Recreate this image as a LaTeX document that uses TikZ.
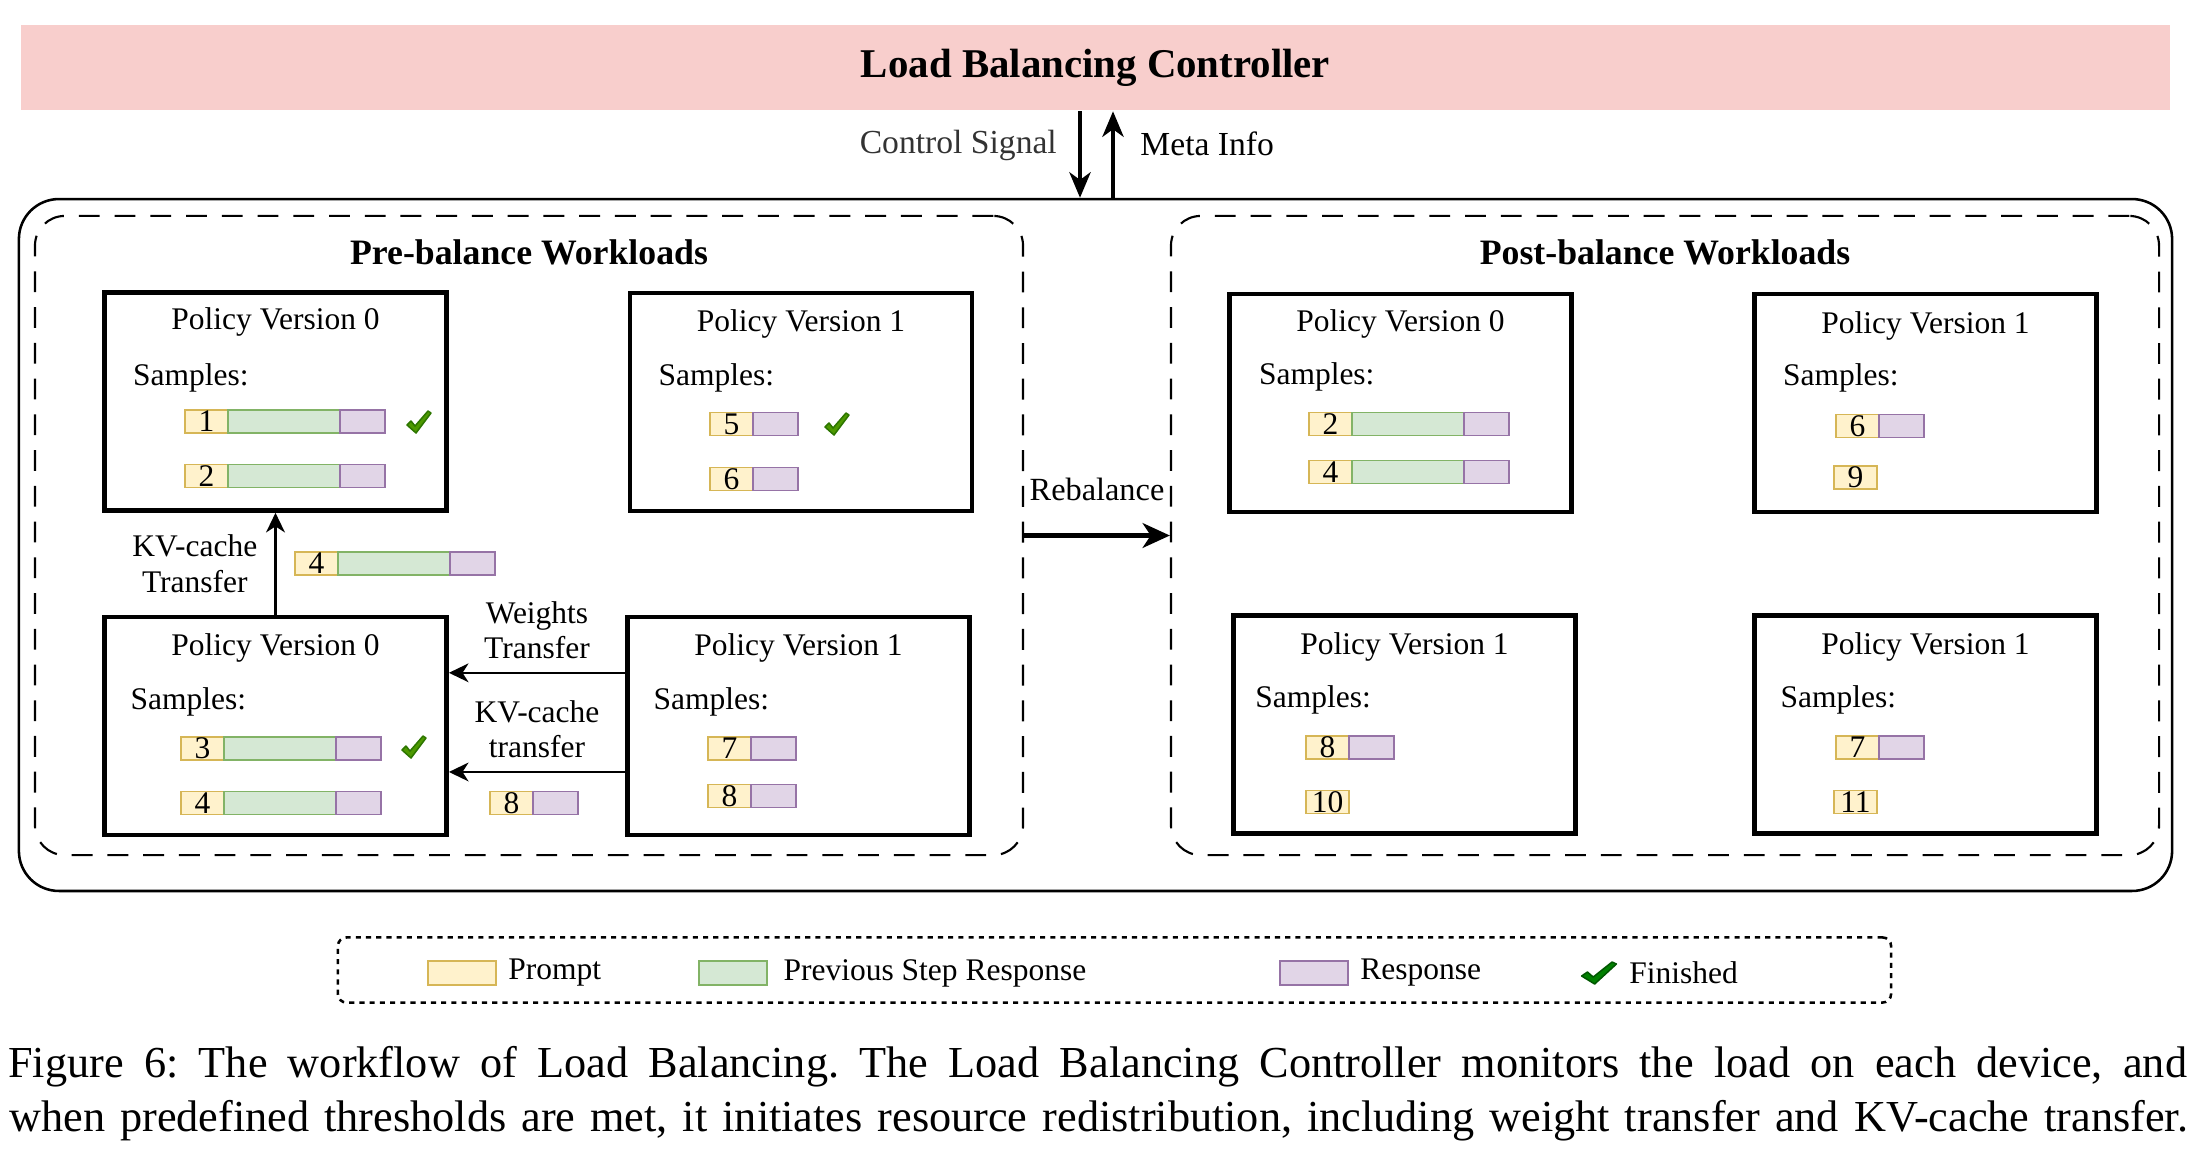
\documentclass[tikz,border=0pt]{standalone}
\usepackage{fontspec}
\setmainfont{Liberation Serif}
\usetikzlibrary{arrows.meta,positioning}

\definecolor{ctrlpink}{HTML}{F8CECC}
\definecolor{promptfill}{HTML}{FFF2CC}
\definecolor{promptedge}{HTML}{D6B656}
\definecolor{prevfill}{HTML}{D5E8D4}
\definecolor{prevedge}{HTML}{82B366}
\definecolor{respfill}{HTML}{E1D5E7}
\definecolor{respedge}{HTML}{9673A6}
\definecolor{tickfill}{HTML}{4D9900}
\definecolor{tickedge}{HTML}{2D7600}
\definecolor{donefill}{HTML}{008000}
\definecolor{doneedge}{HTML}{005700}
\definecolor{signalgray}{HTML}{333333}

\newcommand{\capspace}{\spaceskip=0.25em plus 0.25em minus 0.12em\relax}

\tikzset{
  cell/.style={draw, line width=0.45pt, minimum height=5.4pt, inner sep=0pt,
    outer sep=0pt, anchor=west},
  prompt/.style={cell, fill=promptfill, draw=promptedge, minimum width=10.1pt},
  prev/.style={cell, fill=prevfill, draw=prevedge, minimum width=26.3pt},
  resp/.style={cell, fill=respfill, draw=respedge, minimum width=10.6pt},
  policy/.style={draw, line width=1.1pt, minimum width=80.4pt,
    minimum height=51.2pt, inner sep=0pt},
  boxtitle/.style={inner sep=0pt},
  samplabel/.style={inner sep=0pt, anchor=west},
  phase/.style={draw, line width=0.5pt, dash pattern=on 4.9pt off 3.5pt,
    rounded corners=7pt, minimum width=232.2pt, minimum height=150.2pt,
    inner sep=0pt},
  phasetitle/.style={inner sep=0pt, font=\fontsize{8.4}{10}\selectfont\bfseries},
  siglabel/.style={inner sep=0pt, font=\fontsize{7.9}{9}\selectfont},
  captionline/.style={anchor=base west, inner sep=0pt,
    font=\fontsize{10.4}{12.5}\selectfont},
  sig/.style={-{Stealth[length=6pt, width=5pt, inset=1.8pt]}, line width=0.9pt},
  rebal/.style={-{Stealth[length=6.4pt, width=5.8pt, inset=1.9pt]}, line width=1.1pt},
  xfer/.style={-{Stealth[length=4.6pt, width=4.4pt, inset=1.4pt]}, line width=0.6pt},
  tick/.pic={\filldraw[pic actions, line width=0.35pt, line join=round]
    (-12,3) -- (-8,-1) -- (-4,4) -- (9,-11) -- (12,-9) -- (-3,11) -- cycle;}
}

\begin{document}
\frenchspacing
\begin{tikzpicture}[x=0.235pt, y=-0.235pt, line width=0.6pt,
  font=\fontsize{7.4}{8.3}\selectfont]
\useasboundingbox (0,0) rectangle (2210,1152);

% Contrôleur
\node[fill=ctrlpink, minimum width=505pt, minimum height=20pt, inner sep=0pt,
  font=\fontsize{9.6}{11}\selectfont\bfseries] (ctrl) at (1095.5,67.5)
  {Load Balancing Controller};

% Cadre extérieur
\node[draw, rounded corners=9.4pt, minimum width=506pt, minimum height=162.6pt,
  inner sep=0pt] (cluster) at (1095.5,545) {};

% Signaux
\coordinate (sigx) at (1080,0);
\coordinate (infox) at (1113,0);
\draw[sig] (ctrl.south -| sigx) -- node[pos=0.4, left=5pt, siglabel,
  text=signalgray] {Control Signal} (cluster.north -| sigx);
\draw[sig] (cluster.north -| infox) -- node[pos=0.625, right=6pt, siglabel]
  {Meta Info} (ctrl.south -| infox);

% Phases
\node[phase] (prebox) at (529,535.5) {};
\node[phase] (postbox) at (1665,535.5) {};
\node[phasetitle] at ([yshift=-8.7pt]prebox.north) {Pre-balance Workloads};
\node[phasetitle] at ([yshift=-8.7pt]postbox.north) {Post-balance Workloads};
\draw[rebal] (prebox.east) -- node[above=7.7pt, inner sep=0pt,
  font=\fontsize{7.6}{9}\selectfont] {Rebalance} (postbox.west);

% Boîtes avant
\node[policy] (pre0) at (275.5,401.5) {};
\node[policy] (pre1) at (801,402) {};
\node[policy] (pre2) at (275.5,726) {};
\node[policy] (pre3) at (798.5,726) {};
\node[boxtitle] at ([yshift=-7.5pt]pre0.north) {Policy Version 0};
\node[boxtitle] at ([yshift=-7.9pt]pre1.north) {Policy Version 1};
\node[boxtitle] at ([yshift=-7.7pt]pre2.north) {Policy Version 0};
\node[boxtitle] at ([yshift=-7.7pt]pre3.north) {Policy Version 1};
\node[samplabel] at ([xshift=7pt, yshift=-20.5pt]pre0.north west) {Samples:};
\node[samplabel] at ([xshift=7pt, yshift=-20.5pt]pre1.north west) {Samples:};
\node[samplabel] at ([xshift=6.4pt, yshift=-20.6pt]pre2.north west) {Samples:};
\node[samplabel] at ([xshift=6.4pt, yshift=-20.6pt]pre3.north west) {Samples:};

% Boîtes après
\node[policy] (post0) at (1400.5,403) {};
\node[policy] (post1) at (1925.5,403) {};
\node[policy] (post2) at (1404.5,724.5) {};
\node[policy] (post3) at (1925.5,724.5) {};
\node[boxtitle] at ([yshift=-7.5pt]post0.north) {Policy Version 0};
\node[boxtitle] at ([yshift=-8pt]post1.north) {Policy Version 1};
\node[boxtitle] at ([yshift=-8pt]post2.north) {Policy Version 1};
\node[boxtitle] at ([yshift=-8pt]post3.north) {Policy Version 1};
\node[samplabel] at ([xshift=7.2pt, yshift=-20pt]post0.north west) {Samples:};
\node[samplabel] at ([xshift=7pt, yshift=-20.3pt]post1.north west) {Samples:};
\node[samplabel] at ([xshift=5.4pt, yshift=-20.4pt]post2.north west) {Samples:};
\node[samplabel] at ([xshift=6.4pt, yshift=-20.4pt]post3.north west) {Samples:};

% Échantillons avant
\node[prompt] (a1) at (185,421.5) {1}; \node[prev, right=0pt of a1] (a1g) {};
\node[resp, right=0pt of a1g] (a1r) {};
\node[prompt] (a2) at (185,476) {2}; \node[prev, right=0pt of a2] (a2g) {};
\node[resp, right=0pt of a2g] (a2r) {};
\node[prompt] (b5) at (710,424) {5}; \node[resp, right=0pt of b5] (b5r) {};
\node[prompt] (b6) at (710,479) {6}; \node[resp, right=0pt of b6] (b6r) {};
\node[prompt] (c3) at (181,748.5) {3}; \node[prev, right=0pt of c3] (c3g) {};
\node[resp, right=0pt of c3g] (c3r) {};
\node[prompt] (c4) at (181,803) {4}; \node[prev, right=0pt of c4] (c4g) {};
\node[resp, right=0pt of c4g] (c4r) {};
\node[prompt] (d7) at (708,748.5) {7}; \node[resp, right=0pt of d7] (d7r) {};
\node[prompt] (d8) at (708,796) {8}; \node[resp, right=0pt of d8] (d8r) {};

% Terminés
\pic[fill=tickfill, draw=tickedge] at (419,422) {tick};
\pic[fill=tickfill, draw=tickedge] at (837,424) {tick};
\pic[fill=tickfill, draw=tickedge] at (414,747) {tick};

% Transferts
\draw[xfer] (pre2.north) -- node[midway, left=4pt, inner sep=0pt, align=center]
  {KV-cache\\Transfer} (pre0.south);
\draw[xfer] ([yshift=12.5pt]pre3.west) -- node[midway, above=3pt, inner sep=0pt,
  align=center] {Weights\\Transfer} ([yshift=12.5pt]pre2.east);
\draw[xfer] ([yshift=-10.8pt]pre3.west) -- node[midway, above=3pt, inner sep=0pt,
  align=center] {KV-cache\\transfer} ([yshift=-10.8pt]pre2.east);
\node[prompt] (m4) at (295,563.5) {4}; \node[prev, right=0pt of m4] (m4g) {};
\node[resp, right=0pt of m4g] (m4r) {};
\node[prompt] (m8) at (490,803) {8}; \node[resp, right=0pt of m8] (m8r) {};

% Échantillons après
\node[prompt] (e2) at (1309,424) {2}; \node[prev, right=0pt of e2] (e2g) {};
\node[resp, right=0pt of e2g] (e2r) {};
\node[prompt] (e4) at (1309,472) {4}; \node[prev, right=0pt of e4] (e4g) {};
\node[resp, right=0pt of e4g] (e4r) {};
\node[prompt] (f6) at (1836,426) {6}; \node[resp, right=0pt of f6] (f6r) {};
\node[prompt] (f9) at (1834,477.5) {9};
\node[prompt] (g8) at (1306,747.5) {8}; \node[resp, right=0pt of g8] (g8r) {};
\node[prompt] (g10) at (1306,802) {10};
\node[prompt] (h7) at (1836,747.5) {7}; \node[resp, right=0pt of h7] (h7r) {};
\node[prompt] (h11) at (1834,802) {11};

% Légende
\node[draw, line width=0.6pt, dash pattern=on 1.2pt off 1.2pt, rounded corners=2pt,
  minimum width=365pt, minimum height=15.3pt, inner sep=0pt] (legend) at (1114.5,970) {};
\node[prompt, anchor=center, minimum width=16pt, minimum height=5.6pt] (kprompt) at (462,973) {};
\node[right=2.6pt of kprompt, inner sep=0pt] {Prompt};
\node[prev, anchor=center, minimum width=16pt, minimum height=5.6pt] (kprev) at (733,973) {};
\node[right=3.6pt of kprev, inner sep=0pt] {Previous Step Response};
\node[resp, anchor=center, minimum width=16pt, minimum height=5.6pt] (kresp) at (1314,973) {};
\node[right=2.6pt of kresp, inner sep=0pt] {Response};
\pic[fill=donefill, draw=doneedge, xscale=1.45] at (1599,973) {tick};
\node[anchor=west, inner sep=0pt] (kdone) at (1628,973) {Finished};

% Légende de la figure
\node[captionline] (cap1) at (7,1077) {\capspace\makebox[512pt][s]{Figure 6: The
  workflow of Load Balancing. The Load Balancing Controller monitors the load on each
  device, and}};
\node[captionline] (cap2) at (8,1131) {\capspace\makebox[512pt][s]{when predefined
  thresholds are met, it initiates resource redistribution, including weight transfer
  and KV-cache transfer.}};

\end{tikzpicture}
\end{document}
